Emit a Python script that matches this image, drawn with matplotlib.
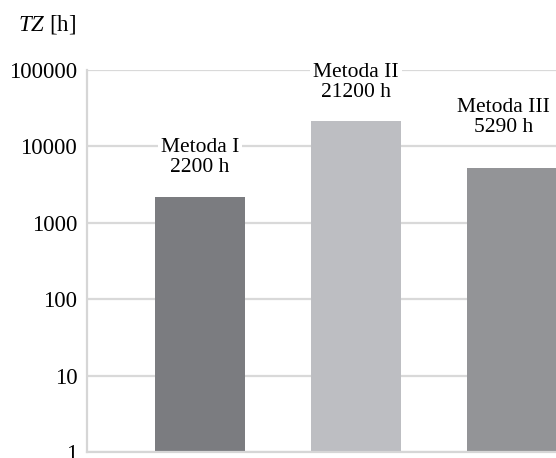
import numpy as np
import matplotlib.pyplot as plt

plt.rcParams['font.family'] = 'Liberation Serif'
plt.rcParams['mathtext.fontset'] = 'custom'
plt.rcParams['mathtext.rm'] = 'Liberation Serif'
plt.rcParams['mathtext.it'] = 'Liberation Serif:italic'

# service times per method
methods = ["Metoda I", "Metoda II", "Metoda III"]
hours = [2200, 21200, 5290]
colors = ["#7b7c80", "#bdbec2", "#939497"]
yticks = [1, 10, 100, 1000, 10000, 100000]
ytick_labels = ["1", "10", "100", "1000", "10000", "100000"]

fig = plt.figure(figsize=(5.56, 4.58), dpi=100)
# axes run past the right edge of the figure, so the last bar is cut off
ax = fig.add_axes([87/556, 6/458, 538/556, 382/458])

x = np.arange(len(methods))
ax.bar(x, hours, width=0.58, color=colors, zorder=2)

ax.set_yscale('log')
ax.set_ylim(1, 100000)
ax.set_xlim(-0.724, 2.724)
ax.set_yticks(yticks)
ax.set_yticklabels(ytick_labels)
ax.yaxis.set_minor_locator(plt.NullLocator())
ax.set_xticks([])
ax.tick_params(axis='y', length=0, pad=7, labelsize=16.5)

ax.grid(axis='y', color='#d9d9d9', linewidth=1.6, zorder=0)
for s in ['top', 'right']:
    ax.spines[s].set_visible(False)
for s in ['left', 'bottom']:
    ax.spines[s].set_color('#d6d6d6')
    ax.spines[s].set_linewidth(1.6)

# value labels above the bars, boxed so they break the grid lines
label_dx = [0, 0, -6]
label_dy = [14, 14, 22]
for i, (m, h) in enumerate(zip(methods, hours)):
    ax.annotate(f"{m}\n{h} h", xy=(x[i], h), xytext=(label_dx[i], label_dy[i]),
                textcoords='offset points', ha='center', va='bottom',
                fontsize=15.5, linespacing=1.1, zorder=3,
                bbox=dict(boxstyle='square,pad=0.15', fc='white', ec='none'))

fig.text(18/556, 1 - 31/458, r"$\mathit{TZ}$ [h]", fontsize=16.5)

fig.savefig("out.png", dpi=100)
